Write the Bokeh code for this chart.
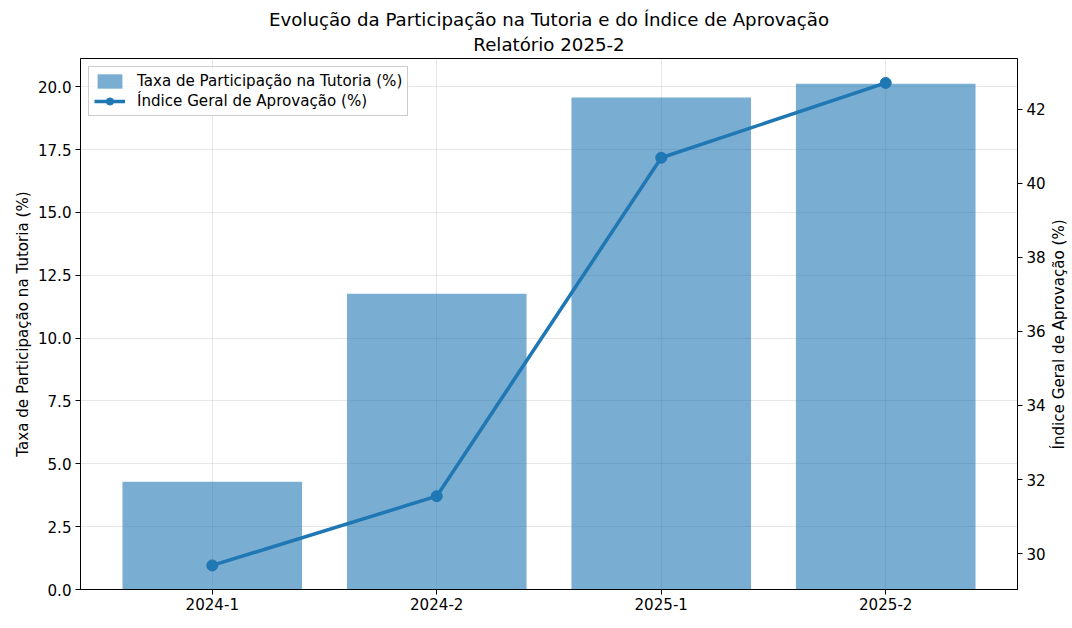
import math
from bokeh.plotting import figure
from bokeh.layouts import row
from bokeh.models import (Range1d, LinearAxis, FixedTicker, NumeralTickFormatter,
                          FactorRange, Title, ColumnDataSource, Legend, LegendItem, Label)
from bokeh.embed import file_html
from bokeh.resources import INLINE

periodos = ["2024-1", "2024-2", "2025-1", "2025-2"]
participacao = [4.29, 11.76, 19.57, 20.12]
aprovacao = [29.68, 31.55, 40.69, 42.71]
left_ticks = [0, 2.5, 5, 7.5, 10, 12.5, 15, 17.5, 20]
right_ticks = [30, 32, 34, 36, 38, 40, 42]

FONT = "DejaVu Sans"
BLUE = "#1f77b4"
TICK_FS = "15.1px"
TITLE_FS = "18.2px"
H = 612

src = ColumnDataSource(dict(x=periodos, part=participacao, apr=aprovacao))

p = figure(width=1048, height=H, output_backend="svg", toolbar_location=None,
           x_range=FactorRange(*periodos, range_padding=0.0435, range_padding_units="percent"),
           y_range=Range1d(0, 21.12),
           min_border_left=80, min_border_right=30, min_border_top=0, min_border_bottom=0)
p.title = None

p.extra_y_ranges = {"right": Range1d(29.03, 43.37)}

bars = p.vbar(x="x", top="part", width=0.8, source=src, fill_color=BLUE, fill_alpha=0.6,
              line_color=None)
line = p.line(x="x", y="apr", source=src, line_color=BLUE, line_width=3.5, y_range_name="right")
pts = p.scatter(x="x", y="apr", source=src, size=11, fill_color=BLUE, line_color=BLUE,
                y_range_name="right")

t2 = Title(text="Relatório 2025-2", align="center", text_font=FONT, text_font_size=TITLE_FS,
           text_font_style="normal", text_color="black", standoff=8)
t1 = Title(text="Evolução da Participação na Tutoria e do Índice de Aprovação", align="center",
           text_font=FONT, text_font_size=TITLE_FS, text_font_style="normal",
           text_color="black", standoff=-4)
spacer = Title(text=" ", text_font_size="6px", standoff=0)
p.add_layout(t2, "above")
p.add_layout(t1, "above")
p.add_layout(spacer, "above")

right_axis = LinearAxis(y_range_name="right", ticker=FixedTicker(ticks=right_ticks))
p.add_layout(right_axis, "right")

p.yaxis[0].axis_label = "Taxa de Participação na Tutoria (%)"
p.yaxis[0].ticker = FixedTicker(ticks=left_ticks)
p.yaxis[0].formatter = NumeralTickFormatter(format="0.0")

for ax in p.axis:
    ax.axis_line_color = "black"
    ax.major_tick_line_color = "black"
    ax.major_tick_out = 5
    ax.major_tick_in = 0
    ax.minor_tick_line_color = None
    ax.major_label_text_font = FONT
    ax.major_label_text_font_size = TICK_FS
    ax.major_label_text_color = "black"
    ax.axis_label_text_font = FONT
    ax.axis_label_text_font_size = TICK_FS
    ax.axis_label_text_font_style = "normal"
    ax.axis_label_text_color = "black"
    ax.major_label_standoff = 4
    ax.axis_label_standoff = 3

p.xaxis.major_label_standoff = 3

p.outline_line_color = "black"
p.outline_line_width = 1
p.xgrid.grid_line_color = "#b0b0b0"
p.xgrid.grid_line_alpha = 0.3
p.ygrid.grid_line_color = "#b0b0b0"
p.ygrid.grid_line_alpha = 0.3
p.ygrid.ticker = FixedTicker(ticks=left_ticks)

legend = Legend(items=[
    LegendItem(label="Taxa de Participação na Tutoria (%)", renderers=[bars]),
    LegendItem(label="Índice Geral de Aprovação (%)", renderers=[line, pts]),
], location="top_left")
legend.label_text_font = FONT
legend.label_text_font_size = TICK_FS
legend.label_text_color = "black"
legend.border_line_color = "#cccccc"
legend.border_line_alpha = 1
legend.background_fill_alpha = 0.8
legend.margin = 8
legend.padding = 5
legend.spacing = 2
legend.glyph_width = 31
legend.glyph_height = 18
legend.label_standoff = 12
p.add_layout(legend)

# narrow side panel carrying the right axis title (reads bottom-to-top)
side = figure(width=20, height=H, output_backend="svg", toolbar_location=None,
              x_range=Range1d(0, 1), y_range=Range1d(0, H),
              min_border_left=0, min_border_right=0, min_border_top=0, min_border_bottom=0)
side.axis.visible = False
side.grid.visible = False
side.outline_line_color = None
side.title = None
side.add_layout(Label(x=0.5, y=H - 318, text="Índice Geral de Aprovação (%)",
                      angle=math.pi / 2, text_align="center", text_baseline="middle",
                      text_font=FONT, text_font_size=TICK_FS, text_color="black"))

open("out.html", "w").write(file_html(row(p, side), INLINE))
